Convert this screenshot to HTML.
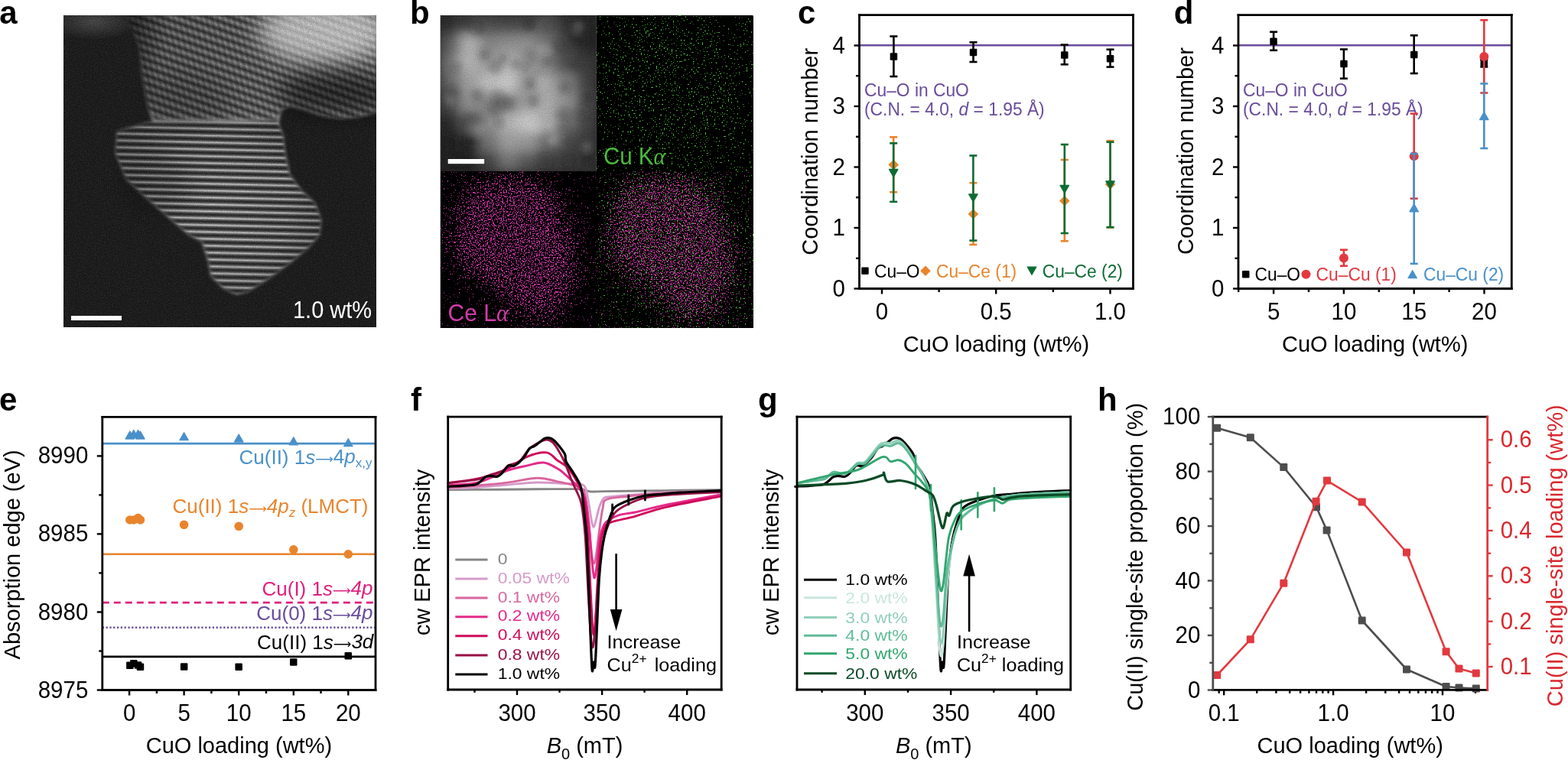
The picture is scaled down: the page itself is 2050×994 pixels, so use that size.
<!DOCTYPE html>
<html><head><meta charset="utf-8"><title>Figure</title>
<style>
html,body{margin:0;padding:0;background:#fff;}
body{width:2050px;height:994px;overflow:hidden;}
svg{display:block;font-family:"Liberation Sans",Arial,Helvetica,sans-serif;}
</style></head><body>
<svg width="2050" height="994" viewBox="0 0 2050 994">
<rect width="2050" height="994" fill="#fff"/>
<line x1="1123.5" y1="59.3" x2="1481.5" y2="59.3" stroke="#6a4c9c" stroke-width="2.6"/>
<line x1="1123.5" y1="377.5" x2="1116.5" y2="377.5" stroke="#000" stroke-width="2.4"/>
<line x1="1123.5" y1="298" x2="1116.5" y2="298" stroke="#000" stroke-width="2.4"/>
<line x1="1123.5" y1="218.5" x2="1116.5" y2="218.5" stroke="#000" stroke-width="2.4"/>
<line x1="1123.5" y1="139" x2="1116.5" y2="139" stroke="#000" stroke-width="2.4"/>
<line x1="1123.5" y1="59.5" x2="1116.5" y2="59.5" stroke="#000" stroke-width="2.4"/>
<line x1="1123.5" y1="337.8" x2="1119" y2="337.8" stroke="#000" stroke-width="2.4"/>
<line x1="1123.5" y1="258.2" x2="1119" y2="258.2" stroke="#000" stroke-width="2.4"/>
<line x1="1123.5" y1="178.8" x2="1119" y2="178.8" stroke="#000" stroke-width="2.4"/>
<line x1="1123.5" y1="99.2" x2="1119" y2="99.2" stroke="#000" stroke-width="2.4"/>
<line x1="1153" y1="377.5" x2="1153" y2="384.5" stroke="#000" stroke-width="2.4"/>
<line x1="1302.2" y1="377.5" x2="1302.2" y2="384.5" stroke="#000" stroke-width="2.4"/>
<line x1="1451.5" y1="377.5" x2="1451.5" y2="384.5" stroke="#000" stroke-width="2.4"/>
<line x1="1227.6" y1="377.5" x2="1227.6" y2="382" stroke="#000" stroke-width="2.4"/>
<line x1="1376.9" y1="377.5" x2="1376.9" y2="382" stroke="#000" stroke-width="2.4"/>
<text font-size="29.5" text-anchor="end" transform="translate(1105 387.5) scale(1 1.09)">0</text>
<text font-size="29.5" text-anchor="end" transform="translate(1105 308) scale(1 1.09)">1</text>
<text font-size="29.5" text-anchor="end" transform="translate(1105 228.5) scale(1 1.09)">2</text>
<text font-size="29.5" text-anchor="end" transform="translate(1105 149) scale(1 1.09)">3</text>
<text font-size="29.5" text-anchor="end" transform="translate(1105 69.5) scale(1 1.09)">4</text>
<text font-size="29.5" text-anchor="middle" transform="translate(1153 418.2) scale(1 1.09)">0</text>
<text font-size="29.5" text-anchor="middle" transform="translate(1302.2 418.2) scale(1 1.09)">0.5</text>
<text font-size="29.5" text-anchor="middle" transform="translate(1451.5 418.2) scale(1 1.09)">1.0</text>
<text x="1302.5" y="459.6" font-size="29.0" text-anchor="middle">CuO loading (wt%)</text>
<text x="1069" y="198.3" font-size="29.0" text-anchor="middle" transform="rotate(-90 1069 198.3)">Coordination number</text>
<text font-size="22.8" fill="#6a4c9c" transform="translate(1130 125.7) scale(1 1.07)">Cu–O in CuO</text>
<text font-size="22.8" fill="#6a4c9c" transform="translate(1130 150.7) scale(1 1.07)">(C.N. = 4.0, <tspan font-style="italic">d</tspan> = 1.95 Å)</text>
<line x1="1168.4" y1="47.5" x2="1168.4" y2="100" stroke="#000" stroke-width="2.6"/>
<line x1="1163.4" y1="47.5" x2="1173.4" y2="47.5" stroke="#000" stroke-width="2.6"/>
<line x1="1163.4" y1="100" x2="1173.4" y2="100" stroke="#000" stroke-width="2.6"/>
<rect x="1163.7" y="69.2" width="9.5" height="9.5" rx="1.2" fill="#000"/>
<line x1="1272.5" y1="55.3" x2="1272.5" y2="81" stroke="#000" stroke-width="2.6"/>
<line x1="1267.5" y1="55.3" x2="1277.5" y2="55.3" stroke="#000" stroke-width="2.6"/>
<line x1="1267.5" y1="81" x2="1277.5" y2="81" stroke="#000" stroke-width="2.6"/>
<rect x="1267.8" y="63.8" width="9.5" height="9.5" rx="1.2" fill="#000"/>
<line x1="1391.7" y1="58.6" x2="1391.7" y2="84.3" stroke="#000" stroke-width="2.6"/>
<line x1="1386.7" y1="58.6" x2="1396.7" y2="58.6" stroke="#000" stroke-width="2.6"/>
<line x1="1386.7" y1="84.3" x2="1396.7" y2="84.3" stroke="#000" stroke-width="2.6"/>
<rect x="1387" y="67.2" width="9.5" height="9.5" rx="1.2" fill="#000"/>
<line x1="1451.5" y1="64.7" x2="1451.5" y2="87.6" stroke="#000" stroke-width="2.6"/>
<line x1="1446.5" y1="64.7" x2="1456.5" y2="64.7" stroke="#000" stroke-width="2.6"/>
<line x1="1446.5" y1="87.6" x2="1456.5" y2="87.6" stroke="#000" stroke-width="2.6"/>
<rect x="1446.8" y="72" width="9.5" height="9.5" rx="1.2" fill="#000"/>
<line x1="1168.2" y1="179.3" x2="1168.2" y2="251.3" stroke="#e9842c" stroke-width="2.6"/>
<line x1="1163.2" y1="179.3" x2="1173.2" y2="179.3" stroke="#e9842c" stroke-width="2.6"/>
<line x1="1163.2" y1="251.3" x2="1173.2" y2="251.3" stroke="#e9842c" stroke-width="2.6"/>
<polygon points="1168.2,208.8 1175,215.6 1168.2,222.4 1161.4,215.6" fill="#e9842c"/>
<line x1="1272.4" y1="239.2" x2="1272.4" y2="320" stroke="#e9842c" stroke-width="2.6"/>
<line x1="1267.4" y1="239.2" x2="1277.4" y2="239.2" stroke="#e9842c" stroke-width="2.6"/>
<line x1="1267.4" y1="320" x2="1277.4" y2="320" stroke="#e9842c" stroke-width="2.6"/>
<polygon points="1272.4,273.2 1279.2,280 1272.4,286.8 1265.6,280" fill="#e9842c"/>
<line x1="1391.8" y1="209" x2="1391.8" y2="315.3" stroke="#e9842c" stroke-width="2.6"/>
<line x1="1386.8" y1="209" x2="1396.8" y2="209" stroke="#e9842c" stroke-width="2.6"/>
<line x1="1386.8" y1="315.3" x2="1396.8" y2="315.3" stroke="#e9842c" stroke-width="2.6"/>
<polygon points="1391.8,255.9 1398.6,262.7 1391.8,269.5 1385,262.7" fill="#e9842c"/>
<line x1="1451.5" y1="184.2" x2="1451.5" y2="297.5" stroke="#e9842c" stroke-width="2.6"/>
<line x1="1446.5" y1="184.2" x2="1456.5" y2="184.2" stroke="#e9842c" stroke-width="2.6"/>
<line x1="1446.5" y1="297.5" x2="1456.5" y2="297.5" stroke="#e9842c" stroke-width="2.6"/>
<polygon points="1451.5,234.2 1458.3,241 1451.5,247.8 1444.7,241" fill="#e9842c"/>
<line x1="1168.2" y1="187.3" x2="1168.2" y2="263.9" stroke="#0e6b32" stroke-width="2.6"/>
<line x1="1163.2" y1="187.3" x2="1173.2" y2="187.3" stroke="#0e6b32" stroke-width="2.6"/>
<line x1="1163.2" y1="263.9" x2="1173.2" y2="263.9" stroke="#0e6b32" stroke-width="2.6"/>
<polygon points="1162.5,221.4 1173.9,221.4 1168.2,231.4" fill="#0e6b32" stroke="#0e6b32" stroke-width="1.3" stroke-linejoin="round"/>
<line x1="1272.4" y1="203.5" x2="1272.4" y2="314.6" stroke="#0e6b32" stroke-width="2.6"/>
<line x1="1267.4" y1="203.5" x2="1277.4" y2="203.5" stroke="#0e6b32" stroke-width="2.6"/>
<line x1="1267.4" y1="314.6" x2="1277.4" y2="314.6" stroke="#0e6b32" stroke-width="2.6"/>
<polygon points="1266.7,254 1278.1,254 1272.4,264" fill="#0e6b32" stroke="#0e6b32" stroke-width="1.3" stroke-linejoin="round"/>
<line x1="1391.8" y1="189" x2="1391.8" y2="305" stroke="#0e6b32" stroke-width="2.6"/>
<line x1="1386.8" y1="189" x2="1396.8" y2="189" stroke="#0e6b32" stroke-width="2.6"/>
<line x1="1386.8" y1="305" x2="1396.8" y2="305" stroke="#0e6b32" stroke-width="2.6"/>
<polygon points="1386.1,242.4 1397.5,242.4 1391.8,252.4" fill="#0e6b32" stroke="#0e6b32" stroke-width="1.3" stroke-linejoin="round"/>
<line x1="1451.5" y1="185.8" x2="1451.5" y2="297.2" stroke="#0e6b32" stroke-width="2.6"/>
<line x1="1446.5" y1="185.8" x2="1456.5" y2="185.8" stroke="#0e6b32" stroke-width="2.6"/>
<line x1="1446.5" y1="297.2" x2="1456.5" y2="297.2" stroke="#0e6b32" stroke-width="2.6"/>
<polygon points="1445.8,237 1457.2,237 1451.5,247" fill="#0e6b32" stroke="#0e6b32" stroke-width="1.3" stroke-linejoin="round"/>
<line x1="1122.1" y1="19.7" x2="1482.9" y2="19.7" stroke="#000" stroke-width="2.8"/>
<line x1="1122.1" y1="377.5" x2="1482.9" y2="377.5" stroke="#000" stroke-width="2.8"/>
<line x1="1123.5" y1="18.3" x2="1123.5" y2="378.9" stroke="#000" stroke-width="2.8"/>
<line x1="1481.5" y1="18.3" x2="1481.5" y2="378.9" stroke="#000" stroke-width="2.8"/>
<rect x="1126.2" y="349.4" width="9.5" height="9.5" rx="1.2" fill="#000"/>
<text font-size="22.8" transform="translate(1143 362.8) scale(1 1.07)">Cu–O</text>
<polygon points="1210,347.4 1216.8,354.2 1210,361 1203.2,354.2" fill="#e9842c"/>
<text font-size="22.8" fill="#e9842c" transform="translate(1224 362.8) scale(1 1.07)">Cu–Ce (1)</text>
<polygon points="1343.3,349.2 1354.7,349.2 1349,359.2" fill="#0e6b32" stroke="#0e6b32" stroke-width="1.3" stroke-linejoin="round"/>
<text font-size="22.8" fill="#0e6b32" transform="translate(1362.8 362.8) scale(1 1.07)">Cu–Ce (2)</text>
<text x="1043" y="30.8" font-size="42" font-weight="bold">c</text>
<line x1="1619" y1="59.3" x2="1976.3" y2="59.3" stroke="#6a4c9c" stroke-width="2.6"/>
<line x1="1619" y1="377.5" x2="1612" y2="377.5" stroke="#000" stroke-width="2.4"/>
<line x1="1619" y1="298" x2="1612" y2="298" stroke="#000" stroke-width="2.4"/>
<line x1="1619" y1="218.5" x2="1612" y2="218.5" stroke="#000" stroke-width="2.4"/>
<line x1="1619" y1="139" x2="1612" y2="139" stroke="#000" stroke-width="2.4"/>
<line x1="1619" y1="59.5" x2="1612" y2="59.5" stroke="#000" stroke-width="2.4"/>
<line x1="1619" y1="337.8" x2="1614.5" y2="337.8" stroke="#000" stroke-width="2.4"/>
<line x1="1619" y1="258.2" x2="1614.5" y2="258.2" stroke="#000" stroke-width="2.4"/>
<line x1="1619" y1="178.8" x2="1614.5" y2="178.8" stroke="#000" stroke-width="2.4"/>
<line x1="1619" y1="99.2" x2="1614.5" y2="99.2" stroke="#000" stroke-width="2.4"/>
<line x1="1665.1" y1="377.5" x2="1665.1" y2="384.5" stroke="#000" stroke-width="2.4"/>
<line x1="1756.9" y1="377.5" x2="1756.9" y2="384.5" stroke="#000" stroke-width="2.4"/>
<line x1="1848.7" y1="377.5" x2="1848.7" y2="384.5" stroke="#000" stroke-width="2.4"/>
<line x1="1940.5" y1="377.5" x2="1940.5" y2="384.5" stroke="#000" stroke-width="2.4"/>
<line x1="1619.2" y1="377.5" x2="1619.2" y2="382" stroke="#000" stroke-width="2.4"/>
<line x1="1711" y1="377.5" x2="1711" y2="382" stroke="#000" stroke-width="2.4"/>
<line x1="1802.8" y1="377.5" x2="1802.8" y2="382" stroke="#000" stroke-width="2.4"/>
<line x1="1894.6" y1="377.5" x2="1894.6" y2="382" stroke="#000" stroke-width="2.4"/>
<text font-size="29.5" text-anchor="end" transform="translate(1600.5 387.5) scale(1 1.09)">0</text>
<text font-size="29.5" text-anchor="end" transform="translate(1600.5 308) scale(1 1.09)">1</text>
<text font-size="29.5" text-anchor="end" transform="translate(1600.5 228.5) scale(1 1.09)">2</text>
<text font-size="29.5" text-anchor="end" transform="translate(1600.5 149) scale(1 1.09)">3</text>
<text font-size="29.5" text-anchor="end" transform="translate(1600.5 69.5) scale(1 1.09)">4</text>
<text font-size="29.5" text-anchor="middle" transform="translate(1665.1 418.2) scale(1 1.09)">5</text>
<text font-size="29.5" text-anchor="middle" transform="translate(1756.9 418.2) scale(1 1.09)">10</text>
<text font-size="29.5" text-anchor="middle" transform="translate(1848.7 418.2) scale(1 1.09)">15</text>
<text font-size="29.5" text-anchor="middle" transform="translate(1940.5 418.2) scale(1 1.09)">20</text>
<text x="1797.7" y="459.6" font-size="29.0" text-anchor="middle">CuO loading (wt%)</text>
<text x="1560.2" y="197.5" font-size="29.0" text-anchor="middle" transform="rotate(-90 1560.2 197.5)">Coordination number</text>
<text font-size="22.8" fill="#6a4c9c" transform="translate(1625 125.7) scale(1 1.07)">Cu–O in CuO</text>
<text font-size="22.8" fill="#6a4c9c" transform="translate(1625 150.7) scale(1 1.07)">(C.N. = 4.0, <tspan font-style="italic">d</tspan> = 1.95 Å)</text>
<line x1="1665.1" y1="41.7" x2="1665.1" y2="65.8" stroke="#000" stroke-width="2.6"/>
<line x1="1660.1" y1="41.7" x2="1670.1" y2="41.7" stroke="#000" stroke-width="2.6"/>
<line x1="1660.1" y1="65.8" x2="1670.1" y2="65.8" stroke="#000" stroke-width="2.6"/>
<rect x="1660.3" y="49.6" width="9.5" height="9.5" rx="1.2" fill="#000"/>
<line x1="1756.9" y1="64.5" x2="1756.9" y2="102.7" stroke="#000" stroke-width="2.6"/>
<line x1="1751.9" y1="64.5" x2="1761.9" y2="64.5" stroke="#000" stroke-width="2.6"/>
<line x1="1751.9" y1="102.7" x2="1761.9" y2="102.7" stroke="#000" stroke-width="2.6"/>
<rect x="1752.2" y="78.8" width="9.5" height="9.5" rx="1.2" fill="#000"/>
<line x1="1848.7" y1="46.3" x2="1848.7" y2="96" stroke="#000" stroke-width="2.6"/>
<line x1="1843.7" y1="46.3" x2="1853.7" y2="46.3" stroke="#000" stroke-width="2.6"/>
<line x1="1843.7" y1="96" x2="1853.7" y2="96" stroke="#000" stroke-width="2.6"/>
<rect x="1844" y="66.8" width="9.5" height="9.5" rx="1.2" fill="#000"/>
<line x1="1940.3" y1="77.9" x2="1940.3" y2="87.4" stroke="#000" stroke-width="2.6"/>
<line x1="1935.3" y1="77.9" x2="1945.3" y2="77.9" stroke="#000" stroke-width="2.6"/>
<line x1="1935.3" y1="87.4" x2="1945.3" y2="87.4" stroke="#000" stroke-width="2.6"/>
<rect x="1935.5" y="77" width="9.5" height="9.5" rx="1.2" fill="#000"/>
<line x1="1756.9" y1="326.7" x2="1756.9" y2="347.8" stroke="#e2393f" stroke-width="2.6"/>
<line x1="1751.9" y1="326.7" x2="1761.9" y2="326.7" stroke="#e2393f" stroke-width="2.6"/>
<line x1="1751.9" y1="347.8" x2="1761.9" y2="347.8" stroke="#e2393f" stroke-width="2.6"/>
<circle cx="1756.9" cy="337.6" r="6" fill="#e2393f"/>
<line x1="1848.7" y1="148.6" x2="1848.7" y2="259.7" stroke="#e2393f" stroke-width="2.6"/>
<line x1="1843.7" y1="148.6" x2="1853.7" y2="148.6" stroke="#e2393f" stroke-width="2.6"/>
<line x1="1843.7" y1="259.7" x2="1853.7" y2="259.7" stroke="#e2393f" stroke-width="2.6"/>
<circle cx="1848.7" cy="204.3" r="6" fill="#e2393f"/>
<line x1="1940.3" y1="26.3" x2="1940.3" y2="121.5" stroke="#e2393f" stroke-width="2.6"/>
<line x1="1935.3" y1="26.3" x2="1945.3" y2="26.3" stroke="#e2393f" stroke-width="2.6"/>
<line x1="1935.3" y1="121.5" x2="1945.3" y2="121.5" stroke="#e2393f" stroke-width="2.6"/>
<circle cx="1940.3" cy="74" r="6" fill="#e2393f"/>
<line x1="1848.7" y1="201" x2="1848.7" y2="344.9" stroke="#4a90c9" stroke-width="2.6"/>
<line x1="1843.7" y1="201" x2="1853.7" y2="201" stroke="#4a90c9" stroke-width="2.6"/>
<line x1="1843.7" y1="344.9" x2="1853.7" y2="344.9" stroke="#4a90c9" stroke-width="2.6"/>
<polygon points="1843,276.9 1854.4,276.9 1848.7,266.9" fill="#4a90c9" stroke="#4a90c9" stroke-width="1.3" stroke-linejoin="round"/>
<line x1="1940.3" y1="109.4" x2="1940.3" y2="194" stroke="#4a90c9" stroke-width="2.6"/>
<line x1="1935.3" y1="109.4" x2="1945.3" y2="109.4" stroke="#4a90c9" stroke-width="2.6"/>
<line x1="1935.3" y1="194" x2="1945.3" y2="194" stroke="#4a90c9" stroke-width="2.6"/>
<polygon points="1934.6,156.5 1946,156.5 1940.3,146.5" fill="#4a90c9" stroke="#4a90c9" stroke-width="1.3" stroke-linejoin="round"/>
<line x1="1617.6" y1="19.7" x2="1977.7" y2="19.7" stroke="#000" stroke-width="2.8"/>
<line x1="1617.6" y1="377.5" x2="1977.7" y2="377.5" stroke="#000" stroke-width="2.8"/>
<line x1="1619" y1="18.3" x2="1619" y2="378.9" stroke="#000" stroke-width="2.8"/>
<line x1="1976.3" y1="18.3" x2="1976.3" y2="378.9" stroke="#000" stroke-width="2.8"/>
<rect x="1624" y="353.9" width="9.5" height="9.5" rx="1.2" fill="#000"/>
<text font-size="22.8" transform="translate(1640.5 367.3) scale(1 1.07)">Cu–O</text>
<circle cx="1707.5" cy="358.7" r="6" fill="#e2393f"/>
<text font-size="22.8" fill="#e2393f" transform="translate(1720.6 367.3) scale(1 1.07)">Cu–Cu (1)</text>
<polygon points="1841,363.7 1852.4,363.7 1846.7,353.7" fill="#4a90c9" stroke="#4a90c9" stroke-width="1.3" stroke-linejoin="round"/>
<text font-size="22.8" fill="#4a90c9" transform="translate(1861 367.3) scale(1 1.07)">Cu–Cu (2)</text>
<text x="1534.7" y="30.8" font-size="42" font-weight="bold">d</text>
<line x1="133.8" y1="580.1" x2="491" y2="580.1" stroke="#4a90c9" stroke-width="2.6"/>
<line x1="133.8" y1="724.8" x2="491" y2="724.8" stroke="#e9842c" stroke-width="2.6"/>
<line x1="133.8" y1="788.1" x2="491" y2="788.1" stroke="#e0207e" stroke-width="2.6" stroke-dasharray="9,6"/>
<line x1="133.8" y1="820.8" x2="491" y2="820.8" stroke="#6a4c9c" stroke-width="2.4" stroke-dasharray="2.2,2.6"/>
<line x1="133.8" y1="858.9" x2="491" y2="858.9" stroke="#000" stroke-width="2.6"/>
<line x1="133.8" y1="902.5" x2="126.8" y2="902.5" stroke="#000" stroke-width="2.4"/>
<line x1="133.8" y1="800.5" x2="126.8" y2="800.5" stroke="#000" stroke-width="2.4"/>
<line x1="133.8" y1="698.4" x2="126.8" y2="698.4" stroke="#000" stroke-width="2.4"/>
<line x1="133.8" y1="596.4" x2="126.8" y2="596.4" stroke="#000" stroke-width="2.4"/>
<line x1="133.8" y1="851.5" x2="129.3" y2="851.5" stroke="#000" stroke-width="2.4"/>
<line x1="133.8" y1="749.4" x2="129.3" y2="749.4" stroke="#000" stroke-width="2.4"/>
<line x1="133.8" y1="647.4" x2="129.3" y2="647.4" stroke="#000" stroke-width="2.4"/>
<line x1="169.1" y1="902.5" x2="169.1" y2="909.5" stroke="#000" stroke-width="2.4"/>
<line x1="240.6" y1="902.5" x2="240.6" y2="909.5" stroke="#000" stroke-width="2.4"/>
<line x1="312.2" y1="902.5" x2="312.2" y2="909.5" stroke="#000" stroke-width="2.4"/>
<line x1="383.8" y1="902.5" x2="383.8" y2="909.5" stroke="#000" stroke-width="2.4"/>
<line x1="455.3" y1="902.5" x2="455.3" y2="909.5" stroke="#000" stroke-width="2.4"/>
<line x1="204.9" y1="902.5" x2="204.9" y2="907" stroke="#000" stroke-width="2.4"/>
<line x1="276.4" y1="902.5" x2="276.4" y2="907" stroke="#000" stroke-width="2.4"/>
<line x1="348" y1="902.5" x2="348" y2="907" stroke="#000" stroke-width="2.4"/>
<line x1="419.5" y1="902.5" x2="419.5" y2="907" stroke="#000" stroke-width="2.4"/>
<text font-size="29.5" text-anchor="end" transform="translate(115.3 912.5) scale(1 1.09)">8975</text>
<text font-size="29.5" text-anchor="end" transform="translate(115.3 810.5) scale(1 1.09)">8980</text>
<text font-size="29.5" text-anchor="end" transform="translate(115.3 708.4) scale(1 1.09)">8985</text>
<text font-size="29.5" text-anchor="end" transform="translate(115.3 606.4) scale(1 1.09)">8990</text>
<text font-size="29.5" text-anchor="middle" transform="translate(169.1 943.4) scale(1 1.09)">0</text>
<text font-size="29.5" text-anchor="middle" transform="translate(240.6 943.4) scale(1 1.09)">5</text>
<text font-size="29.5" text-anchor="middle" transform="translate(312.2 943.4) scale(1 1.09)">10</text>
<text font-size="29.5" text-anchor="middle" transform="translate(383.8 943.4) scale(1 1.09)">15</text>
<text font-size="29.5" text-anchor="middle" transform="translate(455.3 943.4) scale(1 1.09)">20</text>
<text x="312.4" y="984.9" font-size="29.0" text-anchor="middle">CuO loading (wt%)</text>
<text x="26.5" y="725.4" font-size="29.0" text-anchor="middle" transform="rotate(-90 26.5 725.4)">Absorption edge (eV)</text>
<polygon points="164.1,574 175.5,574 169.8,564" fill="#4a90c9" stroke="#4a90c9" stroke-width="1.3" stroke-linejoin="round"/>
<polygon points="169.1,572.5 180.5,572.5 174.8,562.5" fill="#4a90c9" stroke="#4a90c9" stroke-width="1.3" stroke-linejoin="round"/>
<polygon points="174.8,572.5 186.2,572.5 180.5,562.5" fill="#4a90c9" stroke="#4a90c9" stroke-width="1.3" stroke-linejoin="round"/>
<polygon points="177.7,574 189.1,574 183.4,564" fill="#4a90c9" stroke="#4a90c9" stroke-width="1.3" stroke-linejoin="round"/>
<polygon points="234.9,575.7 246.3,575.7 240.6,565.7" fill="#4a90c9" stroke="#4a90c9" stroke-width="1.3" stroke-linejoin="round"/>
<polygon points="306.5,578 317.9,578 312.2,568" fill="#4a90c9" stroke="#4a90c9" stroke-width="1.3" stroke-linejoin="round"/>
<polygon points="378.1,581.8 389.4,581.8 383.8,571.8" fill="#4a90c9" stroke="#4a90c9" stroke-width="1.3" stroke-linejoin="round"/>
<polygon points="449.6,583.7 461,583.7 455.3,573.7" fill="#4a90c9" stroke="#4a90c9" stroke-width="1.3" stroke-linejoin="round"/>
<circle cx="169.8" cy="680" r="5.8" fill="#e9842c"/>
<circle cx="174.8" cy="680" r="5.8" fill="#e9842c"/>
<circle cx="180.5" cy="677.5" r="5.8" fill="#e9842c"/>
<circle cx="183.4" cy="680" r="5.8" fill="#e9842c"/>
<circle cx="240.6" cy="686.3" r="5.8" fill="#e9842c"/>
<circle cx="312.2" cy="688.3" r="5.8" fill="#e9842c"/>
<circle cx="383.8" cy="718.8" r="5.8" fill="#e9842c"/>
<circle cx="455.3" cy="724.8" r="5.8" fill="#e9842c"/>
<rect x="165.1" y="865.6" width="9.5" height="9.5" rx="1.2" fill="#000"/>
<rect x="170.1" y="862.9" width="9.5" height="9.5" rx="1.2" fill="#000"/>
<rect x="175.8" y="865.2" width="9.5" height="9.5" rx="1.2" fill="#000"/>
<rect x="178.7" y="867.5" width="9.5" height="9.5" rx="1.2" fill="#000"/>
<rect x="235.9" y="867.2" width="9.5" height="9.5" rx="1.2" fill="#000"/>
<rect x="307.4" y="867.5" width="9.5" height="9.5" rx="1.2" fill="#000"/>
<rect x="379" y="861.2" width="9.5" height="9.5" rx="1.2" fill="#000"/>
<rect x="450.5" y="852.9" width="9.5" height="9.5" rx="1.2" fill="#000"/>
<line x1="132.4" y1="545.3" x2="492.4" y2="545.3" stroke="#000" stroke-width="2.8"/>
<line x1="132.4" y1="902.5" x2="492.4" y2="902.5" stroke="#000" stroke-width="2.8"/>
<line x1="133.8" y1="543.9" x2="133.8" y2="903.9" stroke="#000" stroke-width="2.8"/>
<line x1="491" y1="543.9" x2="491" y2="903.9" stroke="#000" stroke-width="2.8"/>
<text font-size="26" text-anchor="end" fill="#4a90c9" transform="translate(486.5 606.5) scale(1 1.02)">Cu(II) 1<tspan font-style="italic">s</tspan><tspan font-family="DejaVu Sans, sans-serif" font-size="16.5" dy="-0.8">⟶</tspan><tspan dy="0.8"></tspan>4<tspan font-style="italic">p</tspan><tspan font-size="17" dy="5.5">x,y</tspan></text>
<text font-size="26" text-anchor="end" fill="#e9842c" transform="translate(481.5 671.4) scale(1 1.02)">Cu(II) 1<tspan font-style="italic">s</tspan><tspan font-family="DejaVu Sans, sans-serif" font-size="16.5" dy="-0.8">⟶</tspan><tspan dy="0.8"></tspan><tspan font-style="italic">4p</tspan><tspan font-size="17" dy="5.5" font-style="italic">z</tspan><tspan dy="-5.5"> (LMCT)</tspan></text>
<text font-size="26" text-anchor="end" fill="#e0207e" transform="translate(487.5 779.3) scale(1 1.02)">Cu(I) 1<tspan font-style="italic">s</tspan><tspan font-family="DejaVu Sans, sans-serif" font-size="16.5" dy="-0.8">⟶</tspan><tspan dy="0.8"></tspan><tspan font-style="italic">4p</tspan></text>
<text font-size="26" text-anchor="end" fill="#6a4c9c" transform="translate(487.5 811) scale(1 1.02)">Cu(0) 1<tspan font-style="italic">s</tspan><tspan font-family="DejaVu Sans, sans-serif" font-size="16.5" dy="-0.8">⟶</tspan><tspan dy="0.8"></tspan><tspan font-style="italic">4p</tspan></text>
<text font-size="26" text-anchor="end" transform="translate(488.3 849.2) scale(1 1.02)">Cu(II) 1<tspan font-style="italic">s</tspan><tspan font-family="DejaVu Sans, sans-serif" font-size="16.5" dy="-0.8">⟶</tspan><tspan dy="0.8"></tspan><tspan font-style="italic">3d</tspan></text>
<text x="-1" y="536.6" font-size="42" font-weight="bold">e</text>
<line x1="1585.8" y1="902.5" x2="1578.8" y2="902.5" stroke="#4d4d4d" stroke-width="2.4"/>
<line x1="1585.8" y1="831" x2="1578.8" y2="831" stroke="#4d4d4d" stroke-width="2.4"/>
<line x1="1585.8" y1="759.5" x2="1578.8" y2="759.5" stroke="#4d4d4d" stroke-width="2.4"/>
<line x1="1585.8" y1="688.1" x2="1578.8" y2="688.1" stroke="#4d4d4d" stroke-width="2.4"/>
<line x1="1585.8" y1="616.6" x2="1578.8" y2="616.6" stroke="#4d4d4d" stroke-width="2.4"/>
<line x1="1585.8" y1="545.1" x2="1578.8" y2="545.1" stroke="#4d4d4d" stroke-width="2.4"/>
<line x1="1585.8" y1="866.8" x2="1581.3" y2="866.8" stroke="#4d4d4d" stroke-width="2.4"/>
<line x1="1585.8" y1="795.3" x2="1581.3" y2="795.3" stroke="#4d4d4d" stroke-width="2.4"/>
<line x1="1585.8" y1="723.8" x2="1581.3" y2="723.8" stroke="#4d4d4d" stroke-width="2.4"/>
<line x1="1585.8" y1="652.3" x2="1581.3" y2="652.3" stroke="#4d4d4d" stroke-width="2.4"/>
<line x1="1585.8" y1="580.8" x2="1581.3" y2="580.8" stroke="#4d4d4d" stroke-width="2.4"/>
<line x1="1944.7" y1="872" x2="1951.7" y2="872" stroke="#e2393f" stroke-width="2.4"/>
<line x1="1944.7" y1="812.7" x2="1951.7" y2="812.7" stroke="#e2393f" stroke-width="2.4"/>
<line x1="1944.7" y1="753.3" x2="1951.7" y2="753.3" stroke="#e2393f" stroke-width="2.4"/>
<line x1="1944.7" y1="694" x2="1951.7" y2="694" stroke="#e2393f" stroke-width="2.4"/>
<line x1="1944.7" y1="634.6" x2="1951.7" y2="634.6" stroke="#e2393f" stroke-width="2.4"/>
<line x1="1944.7" y1="575.3" x2="1951.7" y2="575.3" stroke="#e2393f" stroke-width="2.4"/>
<line x1="1944.7" y1="842.4" x2="1949.2" y2="842.4" stroke="#e2393f" stroke-width="2.4"/>
<line x1="1944.7" y1="783" x2="1949.2" y2="783" stroke="#e2393f" stroke-width="2.4"/>
<line x1="1944.7" y1="723.7" x2="1949.2" y2="723.7" stroke="#e2393f" stroke-width="2.4"/>
<line x1="1944.7" y1="664.3" x2="1949.2" y2="664.3" stroke="#e2393f" stroke-width="2.4"/>
<line x1="1944.7" y1="605" x2="1949.2" y2="605" stroke="#e2393f" stroke-width="2.4"/>
<line x1="1600.2" y1="902.3" x2="1600.2" y2="909.3" stroke="#000" stroke-width="2.4"/>
<line x1="1743.1" y1="902.3" x2="1743.1" y2="909.3" stroke="#000" stroke-width="2.4"/>
<line x1="1886" y1="902.3" x2="1886" y2="909.3" stroke="#000" stroke-width="2.4"/>
<line x1="1593.7" y1="902.3" x2="1593.7" y2="906.8" stroke="#000" stroke-width="2.4"/>
<line x1="1643.2" y1="902.3" x2="1643.2" y2="906.8" stroke="#000" stroke-width="2.4"/>
<line x1="1668.4" y1="902.3" x2="1668.4" y2="906.8" stroke="#000" stroke-width="2.4"/>
<line x1="1686.2" y1="902.3" x2="1686.2" y2="906.8" stroke="#000" stroke-width="2.4"/>
<line x1="1700.1" y1="902.3" x2="1700.1" y2="906.8" stroke="#000" stroke-width="2.4"/>
<line x1="1711.4" y1="902.3" x2="1711.4" y2="906.8" stroke="#000" stroke-width="2.4"/>
<line x1="1721" y1="902.3" x2="1721" y2="906.8" stroke="#000" stroke-width="2.4"/>
<line x1="1729.3" y1="902.3" x2="1729.3" y2="906.8" stroke="#000" stroke-width="2.4"/>
<line x1="1736.6" y1="902.3" x2="1736.6" y2="906.8" stroke="#000" stroke-width="2.4"/>
<line x1="1786.1" y1="902.3" x2="1786.1" y2="906.8" stroke="#000" stroke-width="2.4"/>
<line x1="1811.3" y1="902.3" x2="1811.3" y2="906.8" stroke="#000" stroke-width="2.4"/>
<line x1="1829.1" y1="902.3" x2="1829.1" y2="906.8" stroke="#000" stroke-width="2.4"/>
<line x1="1843" y1="902.3" x2="1843" y2="906.8" stroke="#000" stroke-width="2.4"/>
<line x1="1854.3" y1="902.3" x2="1854.3" y2="906.8" stroke="#000" stroke-width="2.4"/>
<line x1="1863.9" y1="902.3" x2="1863.9" y2="906.8" stroke="#000" stroke-width="2.4"/>
<line x1="1872.2" y1="902.3" x2="1872.2" y2="906.8" stroke="#000" stroke-width="2.4"/>
<line x1="1879.5" y1="902.3" x2="1879.5" y2="906.8" stroke="#000" stroke-width="2.4"/>
<line x1="1929" y1="902.3" x2="1929" y2="906.8" stroke="#000" stroke-width="2.4"/>
<text font-size="29.5" text-anchor="end" transform="translate(1569.3 912.5) scale(1 1.09)">0</text>
<text font-size="29.5" text-anchor="end" transform="translate(1569.3 841) scale(1 1.09)">20</text>
<text font-size="29.5" text-anchor="end" transform="translate(1569.3 769.5) scale(1 1.09)">40</text>
<text font-size="29.5" text-anchor="end" transform="translate(1569.3 698.1) scale(1 1.09)">60</text>
<text font-size="29.5" text-anchor="end" transform="translate(1569.3 626.6) scale(1 1.09)">80</text>
<text font-size="29.5" text-anchor="end" transform="translate(1569.3 555.1) scale(1 1.09)">100</text>
<text font-size="29.5" fill="#d8282e" transform="translate(1961.7 882) scale(1 1.09)">0.1</text>
<text font-size="29.5" fill="#d8282e" transform="translate(1961.7 822.7) scale(1 1.09)">0.2</text>
<text font-size="29.5" fill="#d8282e" transform="translate(1961.7 763.3) scale(1 1.09)">0.3</text>
<text font-size="29.5" fill="#d8282e" transform="translate(1961.7 704) scale(1 1.09)">0.4</text>
<text font-size="29.5" fill="#d8282e" transform="translate(1961.7 644.6) scale(1 1.09)">0.5</text>
<text font-size="29.5" fill="#d8282e" transform="translate(1961.7 585.3) scale(1 1.09)">0.6</text>
<text font-size="29.5" text-anchor="middle" transform="translate(1600.2 943.4) scale(1 1.09)">0.1</text>
<text font-size="29.5" text-anchor="middle" transform="translate(1743.1 943.4) scale(1 1.09)">1.0</text>
<text font-size="29.5" text-anchor="middle" transform="translate(1886 943.4) scale(1 1.09)">10</text>
<text x="1765.2" y="984.9" font-size="29.0" text-anchor="middle">CuO loading (wt%)</text>
<text x="1494.2" y="728.3" font-size="29.0" text-anchor="middle" transform="rotate(-90 1494.2 728.3)">Cu(II) single-site proportion (%)</text>
<text x="2043" y="726.7" font-size="29.0" text-anchor="middle" fill="#d8282e" transform="rotate(-90 2043 726.7)">Cu(II) single-site loading (wt%)</text>
<polyline points="1591.2,559.8 1634.8,572.3 1678.3,611.1 1721,663.2 1734.6,693.4 1780.7,811.5 1839,875.5 1890.6,898 1907.5,899.5 1929.8,900.5" fill="none" stroke="#4d4d4d" stroke-width="2.6" stroke-linejoin="round"/>
<rect x="1586.2" y="554.8" width="10" height="10" rx="1.2" fill="#4d4d4d"/>
<rect x="1629.8" y="567.3" width="10" height="10" rx="1.2" fill="#4d4d4d"/>
<rect x="1673.3" y="606.1" width="10" height="10" rx="1.2" fill="#4d4d4d"/>
<rect x="1716" y="658.2" width="10" height="10" rx="1.2" fill="#4d4d4d"/>
<rect x="1729.6" y="688.4" width="10" height="10" rx="1.2" fill="#4d4d4d"/>
<rect x="1775.7" y="806.5" width="10" height="10" rx="1.2" fill="#4d4d4d"/>
<rect x="1834" y="870.5" width="10" height="10" rx="1.2" fill="#4d4d4d"/>
<rect x="1885.6" y="893" width="10" height="10" rx="1.2" fill="#4d4d4d"/>
<rect x="1902.5" y="894.5" width="10" height="10" rx="1.2" fill="#4d4d4d"/>
<rect x="1924.8" y="895.5" width="10" height="10" rx="1.2" fill="#4d4d4d"/>
<polyline points="1591.2,883 1634.8,836.3 1678.3,762.7 1720.6,655.8 1735,628.6 1780.7,656.4 1839,722.5 1890.6,852.2 1907.5,874.5 1929.8,880.4" fill="none" stroke="#e2393f" stroke-width="2.6" stroke-linejoin="round"/>
<rect x="1586.2" y="878" width="10" height="10" rx="1.2" fill="#e2393f"/>
<rect x="1629.8" y="831.3" width="10" height="10" rx="1.2" fill="#e2393f"/>
<rect x="1673.3" y="757.7" width="10" height="10" rx="1.2" fill="#e2393f"/>
<rect x="1715.6" y="650.8" width="10" height="10" rx="1.2" fill="#e2393f"/>
<rect x="1730" y="623.6" width="10" height="10" rx="1.2" fill="#e2393f"/>
<rect x="1775.7" y="651.4" width="10" height="10" rx="1.2" fill="#e2393f"/>
<rect x="1834" y="717.5" width="10" height="10" rx="1.2" fill="#e2393f"/>
<rect x="1885.6" y="847.2" width="10" height="10" rx="1.2" fill="#e2393f"/>
<rect x="1902.5" y="869.5" width="10" height="10" rx="1.2" fill="#e2393f"/>
<rect x="1924.8" y="875.4" width="10" height="10" rx="1.2" fill="#e2393f"/>
<line x1="1584.4" y1="545.1" x2="1946.1" y2="545.1" stroke="#000" stroke-width="2.8"/>
<line x1="1584.4" y1="902.3" x2="1946.1" y2="902.3" stroke="#000" stroke-width="2.8"/>
<line x1="1585.8" y1="543.7" x2="1585.8" y2="903.7" stroke="#4d4d4d" stroke-width="2.8"/>
<line x1="1944.7" y1="543.7" x2="1944.7" y2="903.7" stroke="#e2393f" stroke-width="2.8"/>
<text x="1435" y="536.6" font-size="42" font-weight="bold">h</text>
<line x1="676" y1="902" x2="676" y2="909" stroke="#000" stroke-width="2.4"/>
<line x1="787.1" y1="902" x2="787.1" y2="909" stroke="#000" stroke-width="2.4"/>
<line x1="898.2" y1="902" x2="898.2" y2="909" stroke="#000" stroke-width="2.4"/>
<line x1="620.5" y1="902" x2="620.5" y2="905.8" stroke="#000" stroke-width="2.4"/>
<line x1="731.5" y1="902" x2="731.5" y2="905.8" stroke="#000" stroke-width="2.4"/>
<line x1="842.6" y1="902" x2="842.6" y2="905.8" stroke="#000" stroke-width="2.4"/>
<text font-size="29.5" text-anchor="middle" transform="translate(676 943.4) scale(1 1.09)">300</text>
<text font-size="29.5" text-anchor="middle" transform="translate(787.1 943.4) scale(1 1.09)">350</text>
<text font-size="29.5" text-anchor="middle" transform="translate(898.2 943.4) scale(1 1.09)">400</text>
<text x="764.5" y="984.8" font-size="29.0" text-anchor="middle"><tspan font-style="italic">B</tspan><tspan font-size="20" dy="8.5">0</tspan><tspan dy="-8.5"> (mT)</tspan></text>
<text x="561.8" y="722.4" font-size="29.0" text-anchor="middle" transform="rotate(-90 561.8 722.4)">cw EPR intensity</text>
<path d="M586.0,640.6C596.7,640.5 631.0,640.3 650.0,640.2C669.0,640.1 682.5,639.9 700.0,639.8C717.5,639.7 744.5,639.5 755.0,639.6C765.5,639.7 760.2,639.9 763.0,640.5C765.8,641.1 767.5,642.6 772.0,643.0C776.5,643.4 773.7,642.8 790.0,642.6C806.3,642.4 844.7,641.9 870.0,641.6C895.3,641.3 930.0,640.9 942.0,640.8" fill="none" stroke="#858585" stroke-width="2.9" stroke-linejoin="round" stroke-linecap="round"/>
<path d="M586.0,639.0C592.3,638.8 611.1,638.3 624.0,637.5C636.9,636.7 650.5,635.1 663.5,634.0C676.5,632.9 689.2,631.2 702.0,631.0C714.8,630.8 730.3,632.1 740.0,632.5C749.7,632.9 755.7,632.2 760.0,633.5C764.3,634.8 764.3,635.6 766.0,640.0C767.7,644.4 768.7,652.7 770.0,660.0C771.3,667.3 772.9,679.2 774.0,684.0C775.1,688.8 775.7,689.5 776.5,689.0C777.3,688.5 777.9,685.0 779.0,681.0C780.1,677.0 781.7,669.3 783.0,665.0C784.3,660.7 785.7,657.4 787.0,655.0C788.3,652.6 788.8,651.4 791.0,650.5C793.2,649.6 793.5,650.1 800.0,649.5C806.5,648.9 818.3,647.9 830.0,647.0C841.7,646.1 851.3,644.8 870.0,644.0C888.7,643.2 930.0,642.3 942.0,642.0" fill="none" stroke="#d49bc9" stroke-width="2.9" stroke-linejoin="round" stroke-linecap="round"/>
<path d="M586.0,637.8C592.4,637.3 611.3,636.1 624.2,635.0C637.1,633.9 650.4,632.7 663.5,631.1C676.6,629.5 691.8,625.4 702.7,625.2C713.6,625.0 721.3,628.3 728.9,629.8C736.5,631.3 743.5,632.7 748.5,634.0C753.5,635.3 756.2,635.2 759.0,637.5C761.8,639.8 763.2,639.2 765.0,648.0C766.8,656.8 768.5,676.7 770.0,690.0C771.5,703.3 772.8,720.2 774.0,728.0C775.2,735.8 776.0,737.7 777.0,736.7C778.0,735.7 778.8,729.8 780.0,722.0C781.2,714.2 782.7,699.5 784.0,690.0C785.3,680.5 786.5,671.1 788.0,665.0C789.5,658.9 787.6,655.8 793.0,653.2C798.4,650.6 809.0,650.5 820.2,649.2C831.5,647.9 840.2,646.4 860.5,645.2C880.8,644.0 928.4,642.5 942.0,642.0" fill="none" stroke="#d9679f" stroke-width="2.9" stroke-linejoin="round" stroke-linecap="round"/>
<path d="M586.0,634.5C592.5,633.9 612.1,634.2 625.0,631.0C637.9,627.8 652.7,619.1 663.5,615.4C674.3,611.7 681.8,610.6 689.6,608.9C697.5,607.2 704.1,604.4 710.6,605.0C717.1,605.6 723.7,609.8 728.9,612.8C734.1,615.8 737.6,619.4 742.0,623.3C746.4,627.2 751.2,631.5 755.0,636.3C758.8,641.1 762.5,643.9 765.0,652.0C767.5,660.1 768.5,671.2 770.0,685.0C771.5,698.8 772.8,723.2 774.0,735.0C775.2,746.8 776.0,754.5 777.0,755.7C778.0,756.9 778.8,750.5 780.0,742.0C781.2,733.5 782.3,714.3 784.0,705.0C785.7,695.7 787.7,690.3 790.0,686.0C792.3,681.7 794.6,681.1 798.0,679.0C801.4,676.9 804.9,674.8 810.2,673.3C815.5,671.8 820.0,672.1 830.0,670.0C840.0,667.9 851.3,664.3 870.0,660.5C888.7,656.7 930.0,649.2 942.0,647.0" fill="none" stroke="#e4298a" stroke-width="2.9" stroke-linejoin="round" stroke-linecap="round"/>
<path d="M586.0,631.8C593.5,630.6 617.9,627.8 630.8,624.6C643.7,621.4 653.7,617.4 663.5,612.8C673.3,608.2 681.1,600.6 689.6,597.1C698.1,593.6 708.0,591.0 714.5,591.9C721.0,592.8 724.3,599.0 728.9,602.3C733.5,605.6 737.6,606.7 742.0,611.5C746.4,616.3 751.5,624.6 755.0,631.0C758.5,637.4 760.8,640.2 763.0,650.0C765.2,659.8 766.5,670.0 768.0,690.0C769.5,710.0 770.8,747.3 772.0,770.0C773.2,792.7 774.3,817.7 775.3,826.0C776.3,834.3 777.0,830.2 778.0,820.0C779.0,809.8 779.8,783.0 781.0,765.0C782.2,747.0 783.5,724.2 785.0,712.0C786.5,699.8 787.8,696.8 790.0,692.0C792.2,687.2 791.3,686.2 798.0,683.4C804.7,680.6 818.2,678.6 830.3,675.3C842.4,671.9 851.9,667.6 870.5,663.3C889.1,658.9 930.1,651.6 942.0,649.2" fill="none" stroke="#d00a5a" stroke-width="2.9" stroke-linejoin="round" stroke-linecap="round"/>
<path d="M586.0,631.8C592.4,631.0 615.0,629.0 624.2,627.2C633.4,625.4 635.5,622.9 641.0,621.0C646.5,619.1 653.0,618.1 657.0,616.0C661.0,613.9 661.3,610.6 665.0,608.5C668.7,606.4 674.5,607.1 679.0,603.5C683.5,599.9 687.5,591.2 692.0,587.0C696.5,582.8 702.2,580.0 706.0,578.0C709.8,576.0 712.3,575.0 715.0,575.0C717.7,575.0 720.0,576.5 722.0,578.0C724.0,579.5 724.5,580.0 727.0,584.0C729.5,588.0 733.4,594.2 737.0,602.0C740.6,609.8 745.5,623.8 748.5,631.0C751.5,638.2 753.0,640.2 755.0,645.0C757.0,649.8 758.6,650.8 760.3,660.0C762.0,669.2 763.5,680.8 765.0,700.0C766.5,719.2 767.7,752.0 769.0,775.0C770.3,798.0 771.8,826.7 773.0,838.0C774.2,849.3 775.0,848.5 776.0,843.0C777.0,837.5 777.8,820.8 779.0,805.0C780.2,789.2 781.3,764.5 783.0,748.0C784.7,731.5 786.8,716.5 789.0,706.0C791.2,695.5 793.3,691.1 796.0,685.0C798.7,678.9 800.9,673.6 805.2,669.3C809.5,665.0 815.6,662.0 822.0,659.0C828.4,656.0 835.4,653.1 843.4,651.2C851.4,649.3 853.6,648.8 870.0,647.5C886.4,646.2 930.0,644.2 942.0,643.6" fill="none" stroke="#981046" stroke-width="2.9" stroke-linejoin="round" stroke-linecap="round"/>
<path d="M586.0,636.3C589.1,636.1 598.7,635.7 604.6,635.3C610.5,634.9 617.7,634.6 621.6,633.7C625.5,632.8 626.0,631.4 628.2,629.8C630.4,628.2 632.5,625.1 634.7,623.9C636.9,622.6 638.6,622.4 641.2,622.3C643.8,622.2 647.8,624.0 650.4,623.3C653.0,622.6 654.6,620.4 657.0,618.0C659.4,615.6 662.4,610.3 664.8,608.9C667.2,607.5 668.9,610.3 671.3,609.5C673.7,608.7 676.8,606.4 679.2,604.3C681.6,602.2 683.5,600.0 685.7,597.1C687.9,594.2 690.1,588.9 692.3,586.6C694.5,584.3 696.4,584.9 698.8,583.4C701.2,581.9 704.4,579.1 706.6,577.5C708.8,575.9 709.9,574.3 711.9,573.5C713.9,572.7 716.4,572.6 718.4,572.9C720.4,573.2 721.5,573.6 723.7,575.5C725.9,577.4 729.0,580.9 731.5,584.0C734.0,587.1 737.0,590.7 738.5,594.0C740.0,597.3 738.5,600.2 740.2,604.0C741.9,607.8 745.6,612.0 748.5,616.7C751.4,621.4 755.5,627.8 757.5,632.0C759.5,636.2 759.5,636.0 760.5,642.0C761.5,648.0 762.4,657.2 763.5,667.7C764.6,678.2 765.9,684.6 767.1,705.0C768.3,725.4 769.4,761.9 770.5,790.0C771.6,818.1 773.0,861.0 773.9,873.7C774.8,886.4 775.3,866.5 776.0,866.0C776.7,865.5 777.2,878.7 778.0,871.0C778.8,863.3 779.6,839.2 780.5,820.0C781.4,800.8 782.3,772.4 783.4,755.7C784.5,739.0 785.9,729.0 787.0,720.0C788.1,711.0 789.0,707.1 790.2,701.4C791.4,695.7 792.7,691.2 794.3,686.0C795.9,680.8 798.2,674.0 800.0,670.0C801.8,666.0 801.5,664.9 805.2,662.3C808.9,659.7 815.9,656.6 822.3,654.2C828.7,651.9 837.0,649.5 843.4,648.2C849.8,647.0 852.6,647.4 860.5,646.7C868.4,646.0 877.1,645.0 890.7,644.1C904.3,643.2 933.5,642.0 942.0,641.6" fill="none" stroke="#000" stroke-width="3.2" stroke-linejoin="round" stroke-linecap="round"/>
<line x1="800.6" y1="660" x2="800.6" y2="672" stroke="#000" stroke-width="2.8" stroke-linecap="round"/>
<line x1="821.8" y1="648" x2="821.8" y2="660" stroke="#000" stroke-width="2.8" stroke-linecap="round"/>
<line x1="843.4" y1="642" x2="843.4" y2="654" stroke="#000" stroke-width="2.8" stroke-linecap="round"/>
<line x1="595.3" y1="732" x2="637.5" y2="732" stroke="#858585" stroke-width="3.0"/>
<text font-size="21" fill="#858585" transform="translate(650.7 737.6) scale(1.09 1)">0</text>
<line x1="595.3" y1="757" x2="637.5" y2="757" stroke="#d49bc9" stroke-width="3.0"/>
<text font-size="21" fill="#d49bc9" transform="translate(650.7 762.6) scale(1.09 1)">0.05 wt%</text>
<line x1="595.3" y1="782" x2="637.5" y2="782" stroke="#d9679f" stroke-width="3.0"/>
<text font-size="21" fill="#d9679f" transform="translate(650.7 787.6) scale(1.09 1)">0.1 wt%</text>
<line x1="595.3" y1="806.8" x2="637.5" y2="806.8" stroke="#e4298a" stroke-width="3.0"/>
<text font-size="21" fill="#e4298a" transform="translate(650.7 812.4) scale(1.09 1)">0.2 wt%</text>
<line x1="595.3" y1="831.8" x2="637.5" y2="831.8" stroke="#d00a5a" stroke-width="3.0"/>
<text font-size="21" fill="#d00a5a" transform="translate(650.7 837.4) scale(1.09 1)">0.4 wt%</text>
<line x1="595.3" y1="857" x2="637.5" y2="857" stroke="#981046" stroke-width="3.0"/>
<text font-size="21" fill="#981046" transform="translate(650.7 862.6) scale(1.09 1)">0.8 wt%</text>
<line x1="595.3" y1="882" x2="637.5" y2="882" stroke="#000" stroke-width="3.0"/>
<text font-size="21" transform="translate(650.7 887.6) scale(1.09 1)">1.0 wt%</text>
<line x1="805.6" y1="724.2" x2="805.6" y2="800" stroke="#000" stroke-width="2.6"/>
<polygon points="797.8,797 813.4,797 805.6,825.3" fill="#000"/>
<text font-size="24" transform="translate(793.6 848) scale(1.05 1)">Increase</text>
<text font-size="24" transform="translate(793.6 877.7) scale(1.05 1)">Cu<tspan font-size="16.5" dy="-11">2+</tspan><tspan dy="11" dx="3"> loading</tspan></text>
<line x1="584.3" y1="545.1" x2="944.6" y2="545.1" stroke="#000" stroke-width="2.8"/>
<line x1="584.3" y1="902" x2="944.6" y2="902" stroke="#000" stroke-width="2.8"/>
<line x1="585.7" y1="543.7" x2="585.7" y2="903.4" stroke="#000" stroke-width="2.8"/>
<line x1="943.2" y1="543.7" x2="943.2" y2="903.4" stroke="#000" stroke-width="2.8"/>
<text x="537" y="536.6" font-size="42" font-weight="bold">f</text>
<line x1="1130.8" y1="902" x2="1130.8" y2="909" stroke="#000" stroke-width="2.4"/>
<line x1="1243.1" y1="902" x2="1243.1" y2="909" stroke="#000" stroke-width="2.4"/>
<line x1="1355.4" y1="902" x2="1355.4" y2="909" stroke="#000" stroke-width="2.4"/>
<line x1="1074.6" y1="902" x2="1074.6" y2="905.8" stroke="#000" stroke-width="2.4"/>
<line x1="1187" y1="902" x2="1187" y2="905.8" stroke="#000" stroke-width="2.4"/>
<line x1="1299.2" y1="902" x2="1299.2" y2="905.8" stroke="#000" stroke-width="2.4"/>
<text font-size="29.5" text-anchor="middle" transform="translate(1130.8 943.4) scale(1 1.09)">300</text>
<text font-size="29.5" text-anchor="middle" transform="translate(1243.1 943.4) scale(1 1.09)">350</text>
<text font-size="29.5" text-anchor="middle" transform="translate(1355.4 943.4) scale(1 1.09)">400</text>
<text x="1220.8" y="984.8" font-size="29.0" text-anchor="middle"><tspan font-style="italic">B</tspan><tspan font-size="20" dy="8.5">0</tspan><tspan dy="-8.5"> (mT)</tspan></text>
<text x="1018.1" y="722.4" font-size="29.0" text-anchor="middle" transform="rotate(-90 1018.1 722.4)">cw EPR intensity</text>
<path d="M1039.8,636.3C1043.0,636.1 1052.6,635.7 1058.6,635.3C1064.6,634.9 1071.8,634.6 1075.8,633.7C1079.8,632.8 1080.3,631.4 1082.5,629.8C1084.7,628.2 1086.9,625.1 1089.1,623.9C1091.2,622.6 1093.0,622.4 1095.6,622.3C1098.3,622.2 1102.3,624.0 1104.9,623.3C1107.6,622.6 1109.2,620.4 1111.6,618.0C1114.0,615.6 1117.1,610.3 1119.5,608.9C1121.9,607.5 1123.6,610.3 1126.0,609.5C1128.5,608.7 1131.6,606.4 1134.0,604.3C1136.5,602.2 1138.4,600.0 1140.6,597.1C1142.8,594.2 1145.1,588.9 1147.3,586.6C1149.5,584.3 1151.4,584.9 1153.8,583.4C1156.3,581.9 1159.5,579.1 1161.7,577.5C1163.9,575.9 1165.1,574.3 1167.1,573.5C1169.1,572.7 1171.7,572.6 1173.7,572.9C1175.6,573.2 1176.8,573.6 1179.0,575.5C1181.2,577.4 1184.4,580.9 1186.9,584.0C1189.4,587.1 1192.5,590.7 1194.0,594.0C1195.4,597.3 1194.0,600.2 1195.7,604.0C1197.4,607.8 1201.2,612.0 1204.1,616.7C1207.0,621.4 1211.2,627.8 1213.2,632.0C1215.2,636.2 1215.2,636.0 1216.2,642.0C1217.2,648.0 1218.1,657.2 1219.2,667.7C1220.4,678.2 1221.7,684.6 1222.9,705.0C1224.1,725.4 1225.2,761.9 1226.3,790.0C1227.5,818.1 1228.8,861.0 1229.8,873.7C1230.7,886.4 1231.2,866.5 1231.9,866.0C1232.6,865.5 1233.1,878.7 1233.9,871.0C1234.7,863.3 1235.5,839.2 1236.4,820.0C1237.3,800.8 1238.3,772.4 1239.4,755.7C1240.5,739.0 1241.9,729.0 1243.0,720.0C1244.1,711.0 1245.0,707.1 1246.2,701.4C1247.5,695.7 1248.7,691.2 1250.4,686.0C1252.0,680.8 1254.3,674.0 1256.1,670.0C1258.0,666.0 1257.6,664.9 1261.4,662.3C1265.2,659.7 1272.2,656.6 1278.7,654.2C1285.1,651.9 1293.6,649.5 1300.0,648.2C1306.4,647.0 1309.3,647.4 1317.3,646.7C1325.3,646.0 1334.1,645.0 1347.8,644.1C1361.5,643.2 1391.0,642.0 1399.7,641.6" fill="none" stroke="#000" stroke-width="3.2" stroke-linejoin="round" stroke-linecap="round"/>
<path d="M1042.6,631.8C1046.5,631.2 1060.1,629.5 1066.2,628.5C1072.3,627.5 1075.3,627.8 1079.2,625.9C1083.1,624.0 1085.3,618.5 1089.7,617.4C1094.1,616.3 1100.2,621.3 1105.4,619.5C1110.6,617.6 1116.7,608.7 1121.1,606.2C1125.5,603.8 1126.6,608.6 1131.6,604.6C1136.6,600.6 1145.8,586.1 1151.2,582.3C1156.7,578.4 1160.4,582.1 1164.3,581.4C1168.2,580.6 1171.4,577.2 1174.7,577.9C1178.0,578.6 1180.2,580.7 1183.9,585.4C1187.6,590.1 1193.0,599.3 1197.0,605.9C1201.0,612.5 1205.0,618.2 1208.0,625.0C1211.0,631.8 1213.3,633.5 1215.3,646.8C1217.3,660.1 1218.4,680.8 1220.0,704.9C1221.6,729.0 1223.5,766.7 1225.0,791.4C1226.5,816.1 1227.7,844.0 1229.0,853.0C1230.3,862.0 1231.5,859.3 1233.0,845.4C1234.5,831.6 1236.0,792.0 1238.0,769.7C1240.0,747.5 1242.7,725.6 1245.0,712.0C1247.3,698.4 1249.5,694.3 1252.0,688.0C1254.5,681.7 1255.5,679.0 1260.2,674.4C1264.9,669.8 1273.6,664.0 1280.3,660.3C1287.0,656.6 1292.0,654.5 1300.4,652.3C1308.8,650.1 1314.2,648.6 1330.6,647.2C1347.0,645.8 1387.6,644.3 1399.0,643.7" fill="none" stroke="#c9e7dc" stroke-width="2.9" stroke-linejoin="round" stroke-linecap="round"/>
<path d="M1042.6,631.8C1046.5,631.2 1060.1,629.5 1066.2,628.5C1072.3,627.5 1075.3,627.8 1079.2,625.9C1083.1,624.0 1085.3,618.5 1089.7,617.4C1094.1,616.3 1100.2,621.3 1105.4,619.3C1110.6,617.3 1116.7,608.2 1121.1,605.6C1125.5,603.0 1126.6,607.8 1131.6,603.6C1136.6,599.5 1145.8,584.7 1151.2,580.7C1156.7,576.7 1160.4,580.1 1164.3,579.4C1168.2,578.6 1171.4,575.4 1174.7,576.2C1178.0,577.0 1180.2,579.2 1183.9,584.0C1187.6,588.8 1193.0,598.1 1197.0,604.9C1201.0,611.7 1205.0,618.0 1208.0,625.0C1211.0,632.0 1213.3,634.3 1215.3,646.8C1217.3,659.3 1218.4,677.8 1220.0,700.0C1221.6,722.2 1223.5,757.2 1225.0,780.0C1226.5,802.8 1227.7,828.7 1229.0,837.0C1230.3,845.3 1231.5,842.8 1233.0,830.0C1234.5,817.2 1236.0,779.7 1238.0,760.0C1240.0,740.3 1242.7,724.0 1245.0,712.0C1247.3,700.0 1249.5,694.3 1252.0,688.0C1254.5,681.7 1255.5,679.0 1260.2,674.4C1264.9,669.8 1273.6,664.0 1280.3,660.3C1287.0,656.6 1292.0,654.5 1300.4,652.3C1308.8,650.1 1314.2,648.6 1330.6,647.2C1347.0,645.8 1387.6,644.3 1399.0,643.7" fill="none" stroke="#91cfb8" stroke-width="2.9" stroke-linejoin="round" stroke-linecap="round"/>
<path d="M1042.6,631.8C1046.5,631.2 1060.1,629.5 1066.2,628.5C1072.3,627.5 1075.3,627.8 1079.2,625.9C1083.1,624.0 1085.3,618.4 1089.7,617.4C1094.1,616.4 1100.2,621.4 1105.4,619.6C1110.6,617.9 1116.7,609.2 1121.1,606.9C1125.5,604.6 1126.6,609.4 1131.6,605.5C1136.6,601.7 1145.8,587.5 1151.2,583.9C1156.7,580.2 1160.4,584.1 1164.3,583.4C1168.2,582.6 1171.4,579.0 1174.7,579.6C1178.0,580.2 1180.2,582.3 1183.9,586.8C1187.6,591.4 1193.0,600.6 1197.0,606.9C1201.0,613.3 1205.0,618.4 1208.0,625.0C1211.0,631.6 1213.3,635.4 1215.3,646.8C1217.3,658.2 1218.4,673.7 1220.0,693.3C1221.6,712.9 1223.5,744.1 1225.0,764.4C1226.5,784.6 1227.7,807.6 1229.0,815.0C1230.3,822.4 1231.5,820.2 1233.0,808.8C1234.5,797.4 1236.0,762.7 1238.0,746.6C1240.0,730.5 1242.7,721.8 1245.0,712.0C1247.3,702.2 1249.5,694.3 1252.0,688.0C1254.5,681.7 1255.5,679.0 1260.2,674.4C1264.9,669.8 1273.6,664.0 1280.3,660.3C1287.0,656.6 1292.0,654.5 1300.4,652.3C1308.8,650.1 1314.2,648.6 1330.6,647.2C1347.0,645.8 1387.6,644.3 1399.0,643.7" fill="none" stroke="#60bb98" stroke-width="2.9" stroke-linejoin="round" stroke-linecap="round"/>
<path d="M1042.6,631.8C1049.8,630.0 1072.7,624.1 1085.8,621.3C1098.9,618.4 1109.8,618.6 1121.1,614.7C1132.4,610.8 1146.6,599.6 1153.8,597.7C1161.0,595.9 1160.8,602.9 1164.3,603.6C1167.8,604.3 1171.4,601.3 1174.7,601.7C1178.0,602.1 1180.6,603.5 1183.9,606.2C1187.2,608.9 1190.8,614.0 1194.3,618.0C1197.8,622.0 1201.9,626.1 1205.0,630.0C1208.1,633.9 1210.8,636.6 1213.0,641.6C1215.2,646.6 1216.3,647.8 1218.0,660.0C1219.7,672.2 1221.2,696.8 1223.0,715.0C1224.8,733.2 1227.3,760.7 1229.0,769.0C1230.7,777.3 1231.7,771.5 1233.0,765.0C1234.3,758.5 1235.7,740.6 1237.0,730.0C1238.3,719.4 1238.9,709.7 1240.7,701.4C1242.5,693.1 1245.5,685.7 1248.1,680.4C1250.7,675.1 1251.2,672.9 1256.2,669.4C1261.2,665.9 1270.9,661.8 1278.3,659.3C1285.7,656.8 1295.0,654.5 1300.4,654.3C1305.8,654.1 1307.2,658.5 1310.5,658.3C1313.8,658.1 1313.9,654.5 1320.5,653.3C1327.1,652.1 1336.9,651.7 1350.0,651.0C1363.1,650.3 1390.8,649.5 1399.0,649.2" fill="none" stroke="#32a66e" stroke-width="2.9" stroke-linejoin="round" stroke-linecap="round"/>
<line x1="1197" y1="596" x2="1197" y2="639" stroke="#32a66e" stroke-width="2.6" stroke-linecap="round"/>
<line x1="1217" y1="634" x2="1217" y2="668" stroke="#32a66e" stroke-width="2.6" stroke-linecap="round"/>
<line x1="1256.7" y1="654.3" x2="1256.7" y2="692.5" stroke="#32a66e" stroke-width="2.6" stroke-linecap="round"/>
<line x1="1278.3" y1="644.2" x2="1278.3" y2="676.4" stroke="#32a66e" stroke-width="2.6" stroke-linecap="round"/>
<line x1="1299.9" y1="638.2" x2="1299.9" y2="668.3" stroke="#32a66e" stroke-width="2.6" stroke-linecap="round"/>
<path d="M1042.6,635.0C1048.7,634.8 1068.7,634.1 1079.2,633.7C1089.7,633.3 1096.7,633.3 1105.4,632.4C1114.1,631.5 1123.5,630.4 1131.6,628.5C1139.7,626.6 1149.8,623.0 1153.8,621.3C1157.8,619.6 1154.4,617.1 1155.5,618.5C1156.6,619.9 1156.7,628.1 1160.3,629.8C1163.9,631.5 1171.2,627.9 1177.3,628.5C1183.4,629.1 1191.5,631.5 1197.0,633.7C1202.5,635.9 1206.3,639.3 1210.0,641.6C1213.7,643.9 1216.9,644.4 1219.2,647.5C1221.5,650.6 1222.5,654.9 1224.0,660.0C1225.5,665.1 1227.2,673.5 1228.4,678.2C1229.6,682.9 1230.2,686.0 1231.0,688.0C1231.8,690.0 1232.3,691.2 1233.0,690.5C1233.7,689.8 1234.2,687.2 1235.0,684.0C1235.8,680.8 1237.0,672.6 1238.0,671.0C1239.0,669.4 1239.8,675.7 1241.0,674.4C1242.2,673.1 1243.2,666.0 1245.1,663.3C1246.9,660.6 1247.9,660.0 1252.1,658.3C1256.3,656.6 1262.2,654.8 1270.2,653.3C1278.2,651.8 1293.7,649.2 1300.4,649.2C1307.1,649.2 1307.2,653.0 1310.5,653.3C1313.8,653.6 1315.5,652.0 1320.5,651.2C1325.5,650.4 1327.6,649.5 1340.7,648.7C1353.8,648.0 1389.3,647.0 1399.0,646.7" fill="none" stroke="#0a4a25" stroke-width="3.2" stroke-linejoin="round" stroke-linecap="round"/>
<line x1="1051" y1="758.3" x2="1094" y2="758.3" stroke="#000" stroke-width="3.0"/>
<text font-size="21" transform="translate(1105.3 765.3) scale(1.09 1)">1.0 wt%</text>
<line x1="1051" y1="781.7" x2="1094" y2="781.7" stroke="#c9e7dc" stroke-width="3.0"/>
<text font-size="21" fill="#c9e7dc" transform="translate(1105.3 788.7) scale(1.09 1)">2.0 wt%</text>
<line x1="1051" y1="807.6" x2="1094" y2="807.6" stroke="#91cfb8" stroke-width="3.0"/>
<text font-size="21" fill="#91cfb8" transform="translate(1105.3 814.6) scale(1.09 1)">3.0 wt%</text>
<line x1="1051" y1="831.3" x2="1094" y2="831.3" stroke="#60bb98" stroke-width="3.0"/>
<text font-size="21" fill="#60bb98" transform="translate(1105.3 838.3) scale(1.09 1)">4.0 wt%</text>
<line x1="1051" y1="854.7" x2="1094" y2="854.7" stroke="#32a66e" stroke-width="3.0"/>
<text font-size="21" fill="#32a66e" transform="translate(1105.3 861.7) scale(1.09 1)">5.0 wt%</text>
<line x1="1051" y1="880.7" x2="1094" y2="880.7" stroke="#0a4a25" stroke-width="3.0"/>
<text font-size="21" fill="#0a4a25" transform="translate(1105.3 887.7) scale(1.09 1)">20.0 wt%</text>
<line x1="1267.1" y1="750" x2="1267.1" y2="826.2" stroke="#000" stroke-width="2.6"/>
<polygon points="1259.3,753.5 1274.9,753.5 1267.1,724.8" fill="#000"/>
<text font-size="24" transform="translate(1250.9 848) scale(1.05 1)">Increase</text>
<text font-size="24" transform="translate(1250.9 877.7) scale(1.05 1)">Cu<tspan font-size="16.5" dy="-11">2+</tspan><tspan dy="11"> loading</tspan></text>
<line x1="1040.6" y1="545.1" x2="1401.1" y2="545.1" stroke="#000" stroke-width="2.8"/>
<line x1="1040.6" y1="902" x2="1401.1" y2="902" stroke="#000" stroke-width="2.8"/>
<line x1="1042" y1="543.7" x2="1042" y2="903.4" stroke="#000" stroke-width="2.8"/>
<line x1="1399.7" y1="543.7" x2="1399.7" y2="903.4" stroke="#000" stroke-width="2.8"/>
<text x="991" y="536.6" font-size="42" font-weight="bold">g</text>
<defs>
<filter id="grain" x="0" y="0" width="100%" height="100%">
  <feTurbulence type="fractalNoise" baseFrequency="0.75" numOctaves="2" seed="11" result="n"/>
  <feColorMatrix in="n" type="matrix" values="0 0 0 0 1  0 0 0 0 1  0 0 0 0 1  1.4 0 0 0 -0.55"/>
</filter>
<filter id="grainD" x="0" y="0" width="100%" height="100%">
  <feTurbulence type="fractalNoise" baseFrequency="0.75" numOctaves="2" seed="5" result="n"/>
  <feColorMatrix in="n" type="matrix" values="0 0 0 0 0  0 0 0 0 0  0 0 0 0 0  1.4 0 0 0 -0.55"/>
</filter>
<filter id="blurA" x="-10%" y="-10%" width="120%" height="120%"><feGaussianBlur stdDeviation="2.2"/></filter>
<filter id="blurB" x="-20%" y="-20%" width="140%" height="140%"><feGaussianBlur stdDeviation="7"/></filter>
<filter id="blurC" x="-60%" y="-100%" width="220%" height="300%"><feGaussianBlur stdDeviation="14"/></filter>
<filter id="blurH" x="-5%" y="-5%" width="110%" height="110%"><feGaussianBlur stdDeviation="8"/></filter>
<filter id="blurM" x="-20%" y="-20%" width="140%" height="140%"><feGaussianBlur stdDeviation="3.5"/></filter>
<filter id="blurS" x="-20%" y="-20%" width="140%" height="140%"><feGaussianBlur stdDeviation="1.1"/></filter>
<radialGradient id="dotG" cx="0.5" cy="0.5" r="0.62">
  <stop offset="0.15" stop-color="#000" stop-opacity="0"/>
  <stop offset="0.75" stop-color="#000" stop-opacity="0.62"/>
  <stop offset="1" stop-color="#000" stop-opacity="0.7"/>
</radialGradient>
<linearGradient id="rowG" x1="0" y1="0" x2="0" y2="1">
  <stop offset="0" stop-color="#000" stop-opacity="0.66"/>
  <stop offset="0.3" stop-color="#000" stop-opacity="0.25"/>
  <stop offset="0.5" stop-color="#000" stop-opacity="0.0"/>
  <stop offset="0.7" stop-color="#000" stop-opacity="0.25"/>
  <stop offset="1" stop-color="#000" stop-opacity="0.66"/>
</linearGradient>
<linearGradient id="colG" x1="0" y1="0" x2="1" y2="0">
  <stop offset="0" stop-color="#000" stop-opacity="0.35"/>
  <stop offset="0.5" stop-color="#000" stop-opacity="0"/>
  <stop offset="1" stop-color="#000" stop-opacity="0.35"/>
</linearGradient>
<pattern id="lattice" patternUnits="userSpaceOnUse" width="600" height="9.8" patternTransform="rotate(19)">
  <rect width="600" height="9.8" fill="url(#rowG)"/>
</pattern>
<pattern id="lattice2" patternUnits="userSpaceOnUse" width="7.0" height="600" patternTransform="rotate(-12)">
  <rect width="6.8" height="600" fill="url(#colG)"/>
</pattern>
<linearGradient id="stG" x1="0" y1="0" x2="0" y2="1">
  <stop offset="0" stop-color="#000" stop-opacity="0.86"/>
  <stop offset="0.25" stop-color="#000" stop-opacity="0.6"/>
  <stop offset="0.5" stop-color="#000" stop-opacity="0.0"/>
  <stop offset="0.75" stop-color="#000" stop-opacity="0.6"/>
  <stop offset="1" stop-color="#000" stop-opacity="0.86"/>
</linearGradient>
<pattern id="stripes" patternUnits="userSpaceOnUse" width="420" height="9.0" patternTransform="rotate(1.3) translate(0 4.5)">
  <rect width="420" height="9.0" fill="url(#stG)"/>
</pattern>
<linearGradient id="gUp" x1="90" y1="0" x2="409" y2="60" gradientUnits="userSpaceOnUse">
  <stop offset="0" stop-color="#3a3a3a"/>
  <stop offset="0.15" stop-color="#8a8a8a"/>
  <stop offset="0.55" stop-color="#9a9a9a"/>
  <stop offset="0.8" stop-color="#b0b0b0"/>
  <stop offset="1" stop-color="#b8b8b8"/>
</linearGradient>
<radialGradient id="gSt" cx="205" cy="250" r="150" gradientUnits="userSpaceOnUse">
  <stop offset="0" stop-color="#d0d0d0"/>
  <stop offset="0.6" stop-color="#bcbcbc"/>
  <stop offset="1" stop-color="#8c8c8c"/>
</radialGradient>
<radialGradient id="haze" cx="0.5" cy="0.5" r="0.5">
  <stop offset="0" stop-color="#505050" stop-opacity="0.8"/>
  <stop offset="1" stop-color="#505050" stop-opacity="0"/>
</radialGradient>
<clipPath id="clipA"><rect x="83" y="20" width="409" height="408"/></clipPath>
<clipPath id="clipB"><rect x="575.5" y="20" width="409.5" height="409"/></clipPath>
</defs>
<mask id="cpUp" maskUnits="userSpaceOnUse" x="-50" y="-50" width="600" height="500"><polygon points="82,0 409,0 409,127 386,133 361,135 337,131 312,123 296,119 285,124 279,136 230,136 150,136 119,136 111,123 107,103 103,82 101,62 99,41 90,20" fill="#fff" filter="url(#blurA)"/></mask>
<mask id="cpSt" maskUnits="userSpaceOnUse" x="-50" y="-50" width="600" height="500"><polygon points="70,152 110,140 214,140 279,137 287,156 290,181 296,209 312,230 329,246 337,267 335,287 320,304 296,324 267,345 242,361 226,365 209,357 193,341 189,320 181,296 164,287 136,263 103,234 82,214 68,181" fill="#fff" filter="url(#blurA)"/></mask>
<g clip-path="url(#clipA)"><g transform="translate(83 20)">
<rect width="409" height="408" fill="#191919"/>
<ellipse cx="40" cy="8" rx="60" ry="24" fill="url(#haze)"/>
<polygon points="82,0 409,0 409,127 386,133 361,135 337,131 312,123 296,119 285,124 279,150 230,153 150,153 119,148 111,123 107,103 103,82 101,62 99,41 90,20" fill="url(#gUp)" filter="url(#blurA)"/>
<polygon points="70,152 110,140 214,140 279,137 287,156 290,181 296,209 312,230 329,246 337,267 335,287 320,304 296,324 267,345 242,361 226,365 209,357 193,341 189,320 181,296 164,287 136,263 103,234 82,214 68,181" fill="url(#gSt)" filter="url(#blurA)"/>
<g mask="url(#cpUp)"><rect width="409" height="160" fill="url(#lattice)"/><rect width="409" height="160" fill="url(#lattice2)"/></g>
<g mask="url(#cpSt)"><rect y="100" width="409" height="280" fill="url(#stripes)"/></g>
<ellipse cx="340" cy="22" rx="85" ry="40" fill="#e0e0e0" fill-opacity="0.7" filter="url(#blurC)"/>
<ellipse cx="360" cy="102" rx="80" ry="30" fill="#000" fill-opacity="0.6" filter="url(#blurC)"/>
<ellipse cx="160" cy="110" rx="60" ry="35" fill="#000" fill-opacity="0.18" filter="url(#blurC)"/>
<ellipse cx="120" cy="220" rx="45" ry="40" fill="#000" fill-opacity="0.2" filter="url(#blurC)"/>
<rect width="409" height="408" filter="url(#grain)" opacity="0.16"/>
<rect width="409" height="408" filter="url(#grainD)" opacity="0.3"/>
</g></g>
<rect x="93" y="413" width="66" height="6" fill="#fff"/>
<text font-size="29" fill="#fff" transform="translate(383 416) scale(1.0 1.06)">1.0 wt%</text>
<clipPath id="clipH"><rect x="575.5" y="20" width="204" height="204"/></clipPath>
<g clip-path="url(#clipB)">
<rect x="575.5" y="20" width="204.0" height="204" fill="#222"/>
<g clip-path="url(#clipH)"><g filter="url(#blurH)">
<rect x="575" y="19.5" width="26.5" height="26.5" fill="#292929"/>
<rect x="600.5" y="19.5" width="26.5" height="26.5" fill="#4c4c4c"/>
<rect x="626" y="19.5" width="26.5" height="26.5" fill="#4c4c4c"/>
<rect x="651.5" y="19.5" width="26.5" height="26.5" fill="#474747"/>
<rect x="677" y="19.5" width="26.5" height="26.5" fill="#474747"/>
<rect x="702.5" y="19.5" width="26.5" height="26.5" fill="#575757"/>
<rect x="728" y="19.5" width="26.5" height="26.5" fill="#2e2e2e"/>
<rect x="753.5" y="19.5" width="26.5" height="26.5" fill="#212121"/>
<rect x="575" y="45" width="26.5" height="26.5" fill="#5c5c5c"/>
<rect x="600.5" y="45" width="26.5" height="26.5" fill="#b2b2b2"/>
<rect x="626" y="45" width="26.5" height="26.5" fill="#858585"/>
<rect x="651.5" y="45" width="26.5" height="26.5" fill="#919191"/>
<rect x="677" y="45" width="26.5" height="26.5" fill="#919191"/>
<rect x="702.5" y="45" width="26.5" height="26.5" fill="#737373"/>
<rect x="728" y="45" width="26.5" height="26.5" fill="#3d3d3d"/>
<rect x="753.5" y="45" width="26.5" height="26.5" fill="#242424"/>
<rect x="575" y="70.5" width="26.5" height="26.5" fill="#757575"/>
<rect x="600.5" y="70.5" width="26.5" height="26.5" fill="#b2b2b2"/>
<rect x="626" y="70.5" width="26.5" height="26.5" fill="#9e9e9e"/>
<rect x="651.5" y="70.5" width="26.5" height="26.5" fill="#b2b2b2"/>
<rect x="677" y="70.5" width="26.5" height="26.5" fill="#9e9e9e"/>
<rect x="702.5" y="70.5" width="26.5" height="26.5" fill="#737373"/>
<rect x="728" y="70.5" width="26.5" height="26.5" fill="#4c4c4c"/>
<rect x="753.5" y="70.5" width="26.5" height="26.5" fill="#383838"/>
<rect x="575" y="96" width="26.5" height="26.5" fill="#666666"/>
<rect x="600.5" y="96" width="26.5" height="26.5" fill="#9e9e9e"/>
<rect x="626" y="96" width="26.5" height="26.5" fill="#bdbdbd"/>
<rect x="651.5" y="96" width="26.5" height="26.5" fill="#cccccc"/>
<rect x="677" y="96" width="26.5" height="26.5" fill="#8f8f8f"/>
<rect x="702.5" y="96" width="26.5" height="26.5" fill="#a8a8a8"/>
<rect x="728" y="96" width="26.5" height="26.5" fill="#808080"/>
<rect x="753.5" y="96" width="26.5" height="26.5" fill="#3d3d3d"/>
<rect x="575" y="121.5" width="26.5" height="26.5" fill="#4c4c4c"/>
<rect x="600.5" y="121.5" width="26.5" height="26.5" fill="#8f8f8f"/>
<rect x="626" y="121.5" width="26.5" height="26.5" fill="#808080"/>
<rect x="651.5" y="121.5" width="26.5" height="26.5" fill="#808080"/>
<rect x="677" y="121.5" width="26.5" height="26.5" fill="#9e9e9e"/>
<rect x="702.5" y="121.5" width="26.5" height="26.5" fill="#adadad"/>
<rect x="728" y="121.5" width="26.5" height="26.5" fill="#8f8f8f"/>
<rect x="753.5" y="121.5" width="26.5" height="26.5" fill="#4c4c4c"/>
<rect x="575" y="147" width="26.5" height="26.5" fill="#262626"/>
<rect x="600.5" y="147" width="26.5" height="26.5" fill="#595959"/>
<rect x="626" y="147" width="26.5" height="26.5" fill="#8f8f8f"/>
<rect x="651.5" y="147" width="26.5" height="26.5" fill="#b2b2b2"/>
<rect x="677" y="147" width="26.5" height="26.5" fill="#cccccc"/>
<rect x="702.5" y="147" width="26.5" height="26.5" fill="#adadad"/>
<rect x="728" y="147" width="26.5" height="26.5" fill="#737373"/>
<rect x="753.5" y="147" width="26.5" height="26.5" fill="#424242"/>
<rect x="575" y="172.5" width="26.5" height="26.5" fill="#1f1f1f"/>
<rect x="600.5" y="172.5" width="26.5" height="26.5" fill="#262626"/>
<rect x="626" y="172.5" width="26.5" height="26.5" fill="#737373"/>
<rect x="651.5" y="172.5" width="26.5" height="26.5" fill="#9e9e9e"/>
<rect x="677" y="172.5" width="26.5" height="26.5" fill="#999999"/>
<rect x="702.5" y="172.5" width="26.5" height="26.5" fill="#6b6b6b"/>
<rect x="728" y="172.5" width="26.5" height="26.5" fill="#474747"/>
<rect x="753.5" y="172.5" width="26.5" height="26.5" fill="#383838"/>
<rect x="575" y="198" width="26.5" height="26.5" fill="#1f1f1f"/>
<rect x="600.5" y="198" width="26.5" height="26.5" fill="#1f1f1f"/>
<rect x="626" y="198" width="26.5" height="26.5" fill="#404040"/>
<rect x="651.5" y="198" width="26.5" height="26.5" fill="#737373"/>
<rect x="677" y="198" width="26.5" height="26.5" fill="#545454"/>
<rect x="702.5" y="198" width="26.5" height="26.5" fill="#404040"/>
<rect x="728" y="198" width="26.5" height="26.5" fill="#383838"/>
<rect x="753.5" y="198" width="26.5" height="26.5" fill="#333333"/>
</g>
<g filter="url(#blurM)"><circle cx="700.7" cy="167.2" r="9.8" fill="#d0d0d0" fill-opacity="0.22"/><circle cx="756.1" cy="35.4" r="7.8" fill="#d0d0d0" fill-opacity="0.21"/><circle cx="752.2" cy="50.9" r="7.8" fill="#1a1a1a" fill-opacity="0.20"/><circle cx="691.7" cy="32.4" r="6.3" fill="#1a1a1a" fill-opacity="0.25"/><circle cx="727.2" cy="59.5" r="9.8" fill="#1a1a1a" fill-opacity="0.21"/><circle cx="608.9" cy="30.3" r="10.2" fill="#1a1a1a" fill-opacity="0.15"/><circle cx="767.2" cy="191.4" r="6.7" fill="#d0d0d0" fill-opacity="0.20"/><circle cx="710.9" cy="67.9" r="10.6" fill="#d0d0d0" fill-opacity="0.26"/><circle cx="750.8" cy="85.3" r="7.2" fill="#1a1a1a" fill-opacity="0.14"/><circle cx="597.6" cy="85.8" r="8.6" fill="#1a1a1a" fill-opacity="0.21"/><circle cx="648" cy="87.3" r="9.9" fill="#1a1a1a" fill-opacity="0.16"/><circle cx="674.5" cy="160.4" r="5.3" fill="#d0d0d0" fill-opacity="0.12"/><circle cx="724.2" cy="186.3" r="5.1" fill="#d0d0d0" fill-opacity="0.17"/><circle cx="692.5" cy="31.7" r="5.3" fill="#1a1a1a" fill-opacity="0.25"/><circle cx="621.9" cy="169.8" r="10.6" fill="#d0d0d0" fill-opacity="0.17"/><circle cx="651.1" cy="127.1" r="9.7" fill="#1a1a1a" fill-opacity="0.22"/><circle cx="733" cy="189" r="5.2" fill="#d0d0d0" fill-opacity="0.13"/><circle cx="648.5" cy="143" r="10.5" fill="#1a1a1a" fill-opacity="0.25"/><circle cx="686.4" cy="87.8" r="6.9" fill="#1a1a1a" fill-opacity="0.13"/><circle cx="613" cy="157.5" r="11" fill="#1a1a1a" fill-opacity="0.13"/><circle cx="768" cy="128.7" r="7.4" fill="#1a1a1a" fill-opacity="0.20"/><circle cx="738.4" cy="114.3" r="7.5" fill="#1a1a1a" fill-opacity="0.25"/><circle cx="591.6" cy="121.3" r="10" fill="#1a1a1a" fill-opacity="0.22"/><circle cx="761.2" cy="146.6" r="9.7" fill="#1a1a1a" fill-opacity="0.18"/><circle cx="613.1" cy="186.3" r="6.8" fill="#1a1a1a" fill-opacity="0.26"/><circle cx="743.2" cy="210.6" r="7.7" fill="#1a1a1a" fill-opacity="0.22"/><circle cx="674.1" cy="83.8" r="7.4" fill="#1a1a1a" fill-opacity="0.17"/><circle cx="768.4" cy="207.6" r="8.8" fill="#1a1a1a" fill-opacity="0.17"/><circle cx="602" cy="80.4" r="9.7" fill="#d0d0d0" fill-opacity="0.17"/><circle cx="730.9" cy="173.4" r="9.2" fill="#d0d0d0" fill-opacity="0.23"/><circle cx="652.7" cy="160.3" r="6.7" fill="#1a1a1a" fill-opacity="0.23"/><circle cx="713.3" cy="84.4" r="10.7" fill="#d0d0d0" fill-opacity="0.20"/><circle cx="587.6" cy="131.2" r="6.5" fill="#d0d0d0" fill-opacity="0.18"/><circle cx="736.6" cy="149.8" r="9.8" fill="#1a1a1a" fill-opacity="0.21"/><circle cx="722" cy="183.2" r="7.1" fill="#d0d0d0" fill-opacity="0.24"/><circle cx="712.8" cy="210.6" r="10.7" fill="#1a1a1a" fill-opacity="0.19"/><circle cx="616.2" cy="184.8" r="10.6" fill="#1a1a1a" fill-opacity="0.22"/><circle cx="718.6" cy="165.1" r="6" fill="#d0d0d0" fill-opacity="0.20"/><circle cx="708.6" cy="107.8" r="8.7" fill="#d0d0d0" fill-opacity="0.21"/><circle cx="718.8" cy="35.1" r="6" fill="#1a1a1a" fill-opacity="0.21"/><circle cx="626" cy="156.9" r="8.8" fill="#1a1a1a" fill-opacity="0.19"/><circle cx="627.4" cy="40" r="5.8" fill="#1a1a1a" fill-opacity="0.15"/><circle cx="621.3" cy="36.6" r="7.8" fill="#1a1a1a" fill-opacity="0.21"/><circle cx="694.7" cy="74" r="10.4" fill="#1a1a1a" fill-opacity="0.18"/><circle cx="637" cy="105.9" r="5.7" fill="#d0d0d0" fill-opacity="0.17"/></g>
<g filter="url(#blurM)"><circle cx="633.5" cy="72" r="8" fill="#2a2a2a" fill-opacity="0.28"/><circle cx="657.5" cy="77" r="7" fill="#2a2a2a" fill-opacity="0.28"/><circle cx="623.5" cy="124" r="8" fill="#2a2a2a" fill-opacity="0.28"/><circle cx="663.5" cy="135" r="9" fill="#2a2a2a" fill-opacity="0.28"/><circle cx="697.5" cy="132" r="8" fill="#2a2a2a" fill-opacity="0.28"/><circle cx="693.5" cy="110" r="6" fill="#2a2a2a" fill-opacity="0.28"/><circle cx="735.5" cy="170" r="9" fill="#2a2a2a" fill-opacity="0.28"/><circle cx="715.5" cy="80" r="8" fill="#2a2a2a" fill-opacity="0.28"/></g>
</g>
<rect x="575.5" y="20" width="204.0" height="204" filter="url(#grain)" opacity="0.12"/>
<rect x="575.5" y="20" width="204.0" height="204" filter="url(#grainD)" opacity="0.2"/>
<rect x="779.5" y="20" width="205.5" height="204" fill="#000"/>
<rect x="585.7" y="208" width="47.4" height="6.2" fill="#fff"/>
<rect x="575.5" y="224" width="409.5" height="205" fill="#000"/>
</g>
<text x="-0.7" y="30.8" font-size="42" font-weight="bold">a</text>
<text x="536" y="30.8" font-size="42" font-weight="bold">b</text>
<defs>
<filter id="spkM" x="0" y="0" width="100%" height="100%" color-interpolation-filters="sRGB">
  <feGaussianBlur in="SourceAlpha" stdDeviation="14" result="dens"/>
  <feTurbulence type="fractalNoise" baseFrequency="0.6" numOctaves="1" seed="4" result="n"/>
  <feColorMatrix in="n" type="matrix" values="0 0 0 0 0  0 0 0 0 0  0 0 0 0 0  1 0 0 0 0" result="na"/>
  <feComposite in="na" in2="dens" operator="arithmetic" k1="0" k2="1" k3="0.165" k4="-0.7" result="c"/>
  <feComponentTransfer in="c" result="t"><feFuncA type="linear" slope="25" intercept="0"/></feComponentTransfer>
  <feFlood flood-color="#bb3399" result="fl"/>
  <feComposite in="fl" in2="t" operator="in"/>
</filter>
<filter id="spkG" x="0" y="0" width="100%" height="100%" color-interpolation-filters="sRGB">
  <feGaussianBlur in="SourceAlpha" stdDeviation="14" result="dens"/>
  <feTurbulence type="fractalNoise" baseFrequency="0.5" numOctaves="1" seed="9" result="n"/>
  <feColorMatrix in="n" type="matrix" values="0 0 0 0 0  0 0 0 0 0  0 0 0 0 0  1 0 0 0 0" result="na"/>
  <feComposite in="na" in2="dens" operator="arithmetic" k1="0" k2="1" k3="0.03" k4="-0.697" result="c"/>
  <feComponentTransfer in="c" result="t"><feFuncA type="linear" slope="25" intercept="0"/></feComponentTransfer>
  <feFlood flood-color="#4cb83e" result="fl"/>
  <feComposite in="fl" in2="t" operator="in"/>
</filter>
<filter id="spkM2" x="0" y="0" width="100%" height="100%" color-interpolation-filters="sRGB">
  <feGaussianBlur in="SourceAlpha" stdDeviation="14" result="dens"/>
  <feTurbulence type="fractalNoise" baseFrequency="0.6" numOctaves="1" seed="21" result="n"/>
  <feColorMatrix in="n" type="matrix" values="0 0 0 0 0  0 0 0 0 0  0 0 0 0 0  1 0 0 0 0" result="na"/>
  <feComposite in="na" in2="dens" operator="arithmetic" k1="0" k2="1" k3="0.165" k4="-0.7" result="c"/>
  <feComponentTransfer in="c" result="t"><feFuncA type="linear" slope="25" intercept="0"/></feComponentTransfer>
  <feFlood flood-color="#bb3399" result="fl"/>
  <feComposite in="fl" in2="t" operator="in"/>
</filter>
<filter id="spkG2" x="0" y="0" width="100%" height="100%" color-interpolation-filters="sRGB">
  <feGaussianBlur in="SourceAlpha" stdDeviation="14" result="dens"/>
  <feTurbulence type="fractalNoise" baseFrequency="0.5" numOctaves="1" seed="17" result="n"/>
  <feColorMatrix in="n" type="matrix" values="0 0 0 0 0  0 0 0 0 0  0 0 0 0 0  1 0 0 0 0" result="na"/>
  <feComposite in="na" in2="dens" operator="arithmetic" k1="0" k2="1" k3="0.03" k4="-0.697" result="c"/>
  <feComponentTransfer in="c" result="t"><feFuncA type="linear" slope="25" intercept="0"/></feComponentTransfer>
  <feFlood flood-color="#4cb83e" result="fl"/>
  <feComposite in="fl" in2="t" operator="in"/>
</filter>
</defs>
<g clip-path="url(#clipB)">
<g filter="url(#spkG)"><rect x="779.5" y="20" width="205.5" height="204" fill="#fff" fill-opacity="0.001"/><polygon points="799.5,60 824.5,30 874.5,23 919.5,30 939.5,60 957.5,100 964.5,140 954.5,180 939.5,210 899.5,220 864.5,195 839.5,170 804.5,150 789.5,115" fill="#fff" fill-opacity="1.0"/></g>
<g filter="url(#spkM)"><rect x="575.5" y="224" width="204" height="205" fill="#fff" fill-opacity="0.001"/><polygon points="595.5,264 620.5,234 670.5,227 715.5,234 735.5,264 753.5,304 760.5,344 750.5,384 735.5,414 695.5,424 660.5,399 635.5,374 600.5,354 585.5,319" fill="#fff" fill-opacity="1.0"/></g>
<g filter="url(#spkM2)"><rect x="779.5" y="224" width="205.5" height="205" fill="#fff" fill-opacity="0.001"/><polygon points="799.5,264 824.5,234 874.5,227 919.5,234 939.5,264 957.5,304 964.5,344 954.5,384 939.5,414 899.5,424 864.5,399 839.5,374 804.5,354 789.5,319" fill="#fff" fill-opacity="1.0"/></g>
<g filter="url(#spkG2)"><rect x="779.5" y="224" width="205.5" height="205" fill="#fff" fill-opacity="0.001"/><polygon points="799.5,264 824.5,234 874.5,227 919.5,234 939.5,264 957.5,304 964.5,344 954.5,384 939.5,414 899.5,424 864.5,399 839.5,374 804.5,354 789.5,319" fill="#fff" fill-opacity="1.0"/></g>
</g>
<text font-size="29.5" fill="#4cb83e" transform="translate(789 214.9) scale(1 1.06)">Cu K<tspan font-family="Liberation Serif, serif" font-style="italic">α</tspan></text>
<text font-size="30" fill="#d03ca8" transform="translate(585.6 419.6) scale(1 1.05)">Ce L<tspan font-family="Liberation Serif, serif" font-style="italic">α</tspan></text>
</svg>
</body></html>
